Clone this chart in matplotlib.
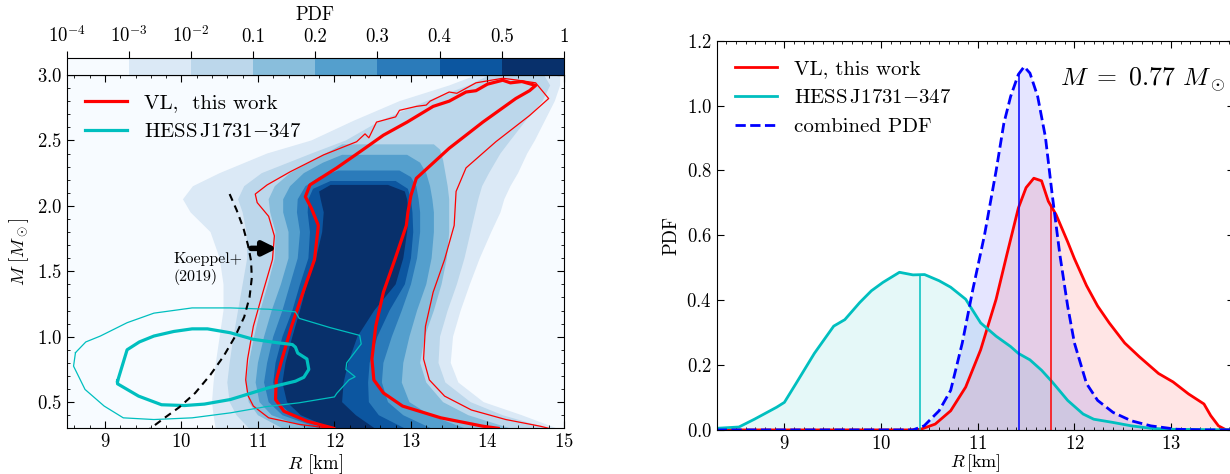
import numpy as np
import matplotlib as mpl
import matplotlib.pyplot as plt
from matplotlib.colors import BoundaryNorm
from matplotlib.lines import Line2D

plt.rcParams['font.family'] = 'serif'
plt.rcParams['font.serif'] = ['cmr10']
plt.rcParams['mathtext.fontset'] = 'cm'
plt.rcParams['axes.formatter.use_mathtext'] = True

# ---------------- left panel data (M-R plane) ----------------
pdf_bounds = [1e-4, 1e-3, 1e-2, 0.1, 0.2, 0.3, 0.4, 0.5, 1.0]
pdf_labels = [r'$10^{-4}$', r'$10^{-3}$', r'$10^{-2}$', '0.1', '0.2', '0.3',
              '0.4', '0.5', '1']

# PDF bands: rows of (M, R_left, R_right), one list per level
band_values = [5e-3, 0.05, 0.15, 0.25, 0.35, 0.45, 0.75]
band_l2 = [(0.29, 10.45, 14.95), (0.40, 10.42, 14.45), (0.50, 10.40, 13.95),
           (0.65, 10.42, 13.62), (0.80, 10.45, 13.52), (1.00, 10.50, 13.55),
           (1.20, 10.55, 13.65), (1.40, 10.55, 13.77), (1.60, 10.50, 13.90),
           (1.80, 10.38, 14.05), (1.95, 10.12, 14.17), (2.05, 10.02, 14.22),
           (2.15, 10.15, 14.30), (2.25, 10.50, 14.40), (2.40, 11.12, 14.52),
           (2.50, 11.70, 14.62), (2.65, 12.25, 14.75), (2.80, 12.85, 14.88),
           (2.92, 13.50, 14.95), (3.02, 13.95, 14.95)]
band_l3 = [(0.29, 10.90, 14.85), (0.40, 10.72, 14.20), (0.50, 10.63, 13.78),
           (0.65, 10.60, 13.45), (0.80, 10.63, 13.36), (1.00, 10.68, 13.38),
           (1.20, 10.74, 13.48), (1.40, 10.80, 13.60), (1.60, 10.86, 13.70),
           (1.80, 10.85, 13.78), (1.95, 10.80, 13.84), (2.05, 10.74, 13.88),
           (2.15, 10.82, 13.93), (2.25, 11.05, 14.02), (2.40, 11.70, 14.17),
           (2.50, 12.15, 14.30), (2.65, 12.60, 14.50), (2.80, 13.20, 14.72),
           (2.92, 13.75, 14.82), (3.02, 14.10, 14.72)]
band_l4 = [(0.29, 11.35, 14.35), (0.40, 11.00, 13.75), (0.50, 10.88, 13.42),
           (0.65, 10.84, 13.20), (0.80, 10.88, 13.12), (1.00, 10.95, 13.18),
           (1.20, 11.03, 13.30), (1.40, 11.13, 13.40), (1.60, 11.22, 13.47),
           (1.80, 11.23, 13.50), (1.95, 11.16, 13.50), (2.05, 11.14, 13.50),
           (2.15, 11.22, 13.48), (2.25, 11.42, 13.45), (2.35, 11.72, 13.42),
           (2.43, 11.98, 13.38), (2.47, 12.10, 13.30)]
band_l5 = [(0.29, 11.70, 13.75), (0.40, 11.18, 13.25), (0.50, 11.02, 12.98),
           (0.65, 10.97, 12.88), (0.80, 11.00, 12.90), (1.00, 11.08, 12.98),
           (1.20, 11.18, 13.08), (1.40, 11.30, 13.20), (1.60, 11.40, 13.27),
           (1.80, 11.40, 13.30), (1.95, 11.33, 13.30), (2.05, 11.33, 13.28),
           (2.15, 11.42, 13.25), (2.25, 11.60, 13.20), (2.33, 11.85, 13.12),
           (2.39, 12.10, 12.95)]
band_l6 = [(0.29, 11.85, 13.30), (0.40, 11.32, 12.90), (0.50, 11.14, 12.70),
           (0.65, 11.08, 12.62), (0.80, 11.12, 12.64), (1.00, 11.20, 12.75),
           (1.20, 11.32, 12.88), (1.40, 11.42, 13.00), (1.60, 11.52, 13.08),
           (1.80, 11.55, 13.12), (1.95, 11.51, 13.12), (2.05, 11.52, 13.10),
           (2.15, 11.62, 13.07), (2.22, 11.80, 13.00), (2.27, 12.05, 12.85)]
band_l7 = [(0.29, 11.92, 12.95), (0.40, 11.45, 12.58), (0.50, 11.26, 12.45),
           (0.65, 11.20, 12.44), (0.80, 11.23, 12.46), (1.00, 11.32, 12.56),
           (1.20, 11.45, 12.72), (1.40, 11.55, 12.92), (1.60, 11.66, 13.00),
           (1.80, 11.68, 13.03), (1.95, 11.65, 13.02), (2.05, 11.66, 13.00),
           (2.13, 11.72, 12.96), (2.19, 11.95, 12.80)]
band_l8 = [(0.29, 12.00, 12.55), (0.40, 11.56, 12.28), (0.50, 11.38, 12.10),
           (0.65, 11.32, 12.12), (0.80, 11.36, 12.18), (1.00, 11.45, 12.30),
           (1.20, 11.55, 12.52), (1.40, 11.64, 12.80), (1.60, 11.76, 12.90),
           (1.80, 11.84, 12.95), (1.95, 11.86, 12.97), (2.05, 11.82, 12.95),
           (2.11, 11.80, 12.92), (2.16, 11.95, 12.70)]
bands = [band_l2, band_l3, band_l4, band_l5, band_l6, band_l7, band_l8]

# VL contours (R, M)
vl_inner_R = [11.99, 11.64, 11.34, 11.23, 11.24, 11.315, 11.44, 11.59, 11.74, 11.79,
              11.70, 11.62, 11.68, 12.03, 12.35, 12.64, 12.95, 13.29, 13.50, 13.72,
              13.85, 14.00, 14.20, 14.30, 14.45, 14.63, 14.55, 14.37, 13.94, 13.50,
              13.07, 13.00, 12.96, 12.94, 12.79, 12.64, 12.54, 12.49, 12.515, 12.64,
              12.89, 13.39, 13.94, 14.14]
vl_inner_M = [0.30, 0.355, 0.43, 0.52, 0.67, 0.83, 1.08, 1.34, 1.59, 1.85,
              1.98, 2.07, 2.16, 2.29, 2.42, 2.54, 2.64, 2.76, 2.80, 2.87,
              2.88, 2.93, 2.96, 2.94, 2.95, 2.92, 2.88, 2.82, 2.64, 2.44,
              2.21, 2.08, 1.95, 1.85, 1.59, 1.34, 1.08, 0.83, 0.67, 0.57,
              0.47, 0.38, 0.316, 0.30]
vl_outer_R = [11.94, 11.54, 11.14, 10.94, 10.87, 10.84, 10.865, 10.94, 11.065, 11.19,
              11.215, 11.14, 10.99, 10.965, 11.12, 11.42, 11.86, 12.29, 12.40, 12.45,
              12.55, 12.80, 12.85, 13.07, 13.20, 13.25, 13.50, 13.60, 13.85, 14.20,
              14.40, 14.63, 14.80, 14.55, 14.11, 13.72, 13.59, 13.565, 13.44, 13.29,
              13.19, 13.165, 13.24, 13.44, 13.79, 14.24, 14.69, 14.80]
vl_outer_M = [0.30, 0.33, 0.38, 0.47, 0.55, 0.67, 0.83, 1.08, 1.34, 1.59,
              1.77, 1.92, 2.025, 2.09, 2.16, 2.26, 2.39, 2.49, 2.55, 2.52,
              2.64, 2.68, 2.73, 2.76, 2.77, 2.80, 2.87, 2.86, 2.94, 2.975,
              2.96, 2.94, 2.82, 2.69, 2.49, 2.29, 2.11, 1.85, 1.59, 1.34,
              1.08, 0.83, 0.67, 0.546, 0.44, 0.367, 0.316, 0.30]

# HESS J1731-347 contours (R, M)
hess_inner_R = [9.165, 9.29, 9.45, 9.64, 9.90, 10.14, 10.34, 10.64, 10.94, 11.24,
                11.45, 11.49, 11.52, 11.64, 11.665, 11.60, 11.49, 11.14, 10.64, 10.30,
                10.04, 9.74, 9.44, 9.165, 9.165]
hess_inner_M = [0.66, 0.90, 0.96, 1.005, 1.04, 1.06, 1.06, 1.03, 0.98, 0.955,
                0.94, 0.92, 0.875, 0.83, 0.75, 0.69, 0.66, 0.61, 0.52, 0.485,
                0.474, 0.48, 0.546, 0.64, 0.66]
hess_outer_R = [8.615, 8.75, 8.94, 9.29, 9.64, 10.14, 10.64, 11.14, 11.49, 11.54,
                11.94, 12.33, 12.35, 12.16, 12.15, 12.27, 12.19, 12.03, 12.00, 11.54,
                11.10, 10.64, 10.14, 9.64, 9.24, 8.99, 8.74, 8.59, 8.615]
hess_outer_M = [0.878, 0.96, 1.005, 1.107, 1.18, 1.22, 1.22, 1.21, 1.19, 1.14,
                1.07, 1.01, 0.945, 0.80, 0.75, 0.694, 0.67, 0.567, 0.54, 0.495,
                0.465, 0.418, 0.38, 0.367, 0.38, 0.47, 0.597, 0.775, 0.878]

# Koeppel+ (2019) bound
koeppel_R = [10.63, 10.72, 10.81, 10.87, 10.91, 10.92, 10.89, 10.82, 10.70, 10.55,
             10.38, 10.18, 9.97, 9.78, 9.62, 9.55]
koeppel_M = [2.09, 1.97, 1.83, 1.70, 1.58, 1.45, 1.30, 1.15, 1.00, 0.85,
             0.71, 0.57, 0.46, 0.38, 0.31, 0.28]

# ---------------- right panel data (PDF at M = 0.77) ----------------
R_vl = [8.30, 10.30, 10.41, 10.56, 10.72, 10.875, 11.03, 11.19, 11.30, 11.42,
        11.50, 11.58, 11.66, 11.73, 11.81, 11.93, 12.00, 12.125, 12.24, 12.36,
        12.52, 12.67, 12.87, 13.02, 13.18, 13.34, 13.41, 13.49, 13.57, 13.70]
pdf_vl = [0, 0, 0.002, 0.018, 0.059, 0.132, 0.247, 0.403, 0.539, 0.684,
          0.747, 0.776, 0.768, 0.705, 0.664, 0.58, 0.528, 0.445, 0.382, 0.33,
          0.268, 0.226, 0.174, 0.148, 0.111, 0.08, 0.044, 0.0125, 0, 0]
R_hess = [8.30, 8.53, 8.69, 8.92, 9.00, 9.12, 9.31, 9.51, 9.625, 9.78,
          9.90, 10.02, 10.19, 10.33, 10.45, 10.60, 10.72, 10.875, 11.03, 11.19,
          11.34, 11.42, 11.54, 11.66, 11.77, 11.93, 12.09, 12.20, 12.40, 12.59,
          12.79, 12.98, 13.70]
pdf_hess = [0.005, 0.009, 0.033, 0.07, 0.085, 0.143, 0.236, 0.32, 0.34, 0.393,
            0.429, 0.455, 0.486, 0.478, 0.479, 0.46, 0.44, 0.403, 0.33, 0.289,
            0.257, 0.236, 0.216, 0.184, 0.148, 0.091, 0.049, 0.033, 0.023, 0.0125,
            0.005, 0.002, 0.0]
R_comb = [8.30, 10.33, 10.445, 10.60, 10.72, 10.84, 10.95, 11.07, 11.19, 11.27,
          11.34, 11.42, 11.48, 11.54, 11.62, 11.70, 11.77, 11.85, 11.93, 12.00,
          12.125, 12.24, 12.40, 12.59, 12.79, 13.06, 13.375, 13.70]
pdf_comb = [0, 0, 0.0125, 0.059, 0.122, 0.268, 0.434, 0.601, 0.799, 0.945,
            1.028, 1.096, 1.12, 1.10, 1.028, 0.903, 0.726, 0.539, 0.382, 0.268,
            0.143, 0.091, 0.054, 0.028, 0.0125, 0.002, 0, 0]
med_vl, med_hess, med_comb = 11.76, 10.40, 11.43

# ---------------- figure ----------------
fig = plt.figure(figsize=(12.3, 4.74), dpi=100)
ax1 = fig.add_axes([0.0542, 0.0964, 0.4043, 0.7454])
cax = fig.add_axes([0.0542, 0.8418, 0.4043, 0.0352])
ax2 = fig.add_axes([0.5827, 0.093, 0.4205, 0.8211])

cmap = plt.cm.Blues
norm = BoundaryNorm(pdf_bounds, cmap.N)

ax1.set_facecolor(cmap(0.0))
for value, band in zip(band_values, bands):
    m = [row[0] for row in band]
    left = [row[1] for row in band]
    right = [row[2] for row in band]
    ax1.fill(left + right[::-1], m + m[::-1], color=cmap(norm(value)), lw=0, zorder=1)

ax1.plot(vl_outer_R, vl_outer_M, color='r', lw=0.9, zorder=3)
ax1.plot(vl_inner_R, vl_inner_M, color='r', lw=2.3, zorder=3)
ax1.plot(hess_outer_R, hess_outer_M, color='c', lw=0.9, zorder=3)
ax1.plot(hess_inner_R, hess_inner_M, color='c', lw=2.3, zorder=3)
ax1.plot(koeppel_R, koeppel_M, color='k', lw=1.5, ls=(0, (3.5, 2.5)), zorder=4)
ax1.annotate('', xy=(11.25, 1.675), xytext=(10.91, 1.675),
             arrowprops=dict(arrowstyle='-|>', color='k', lw=4, mutation_scale=20,
                             shrinkA=0, shrinkB=0), zorder=4)
ax1.text(9.90, 1.52, 'Koeppel+\n(2019)', fontsize=11.5, ha='left', va='center',
         linespacing=1.2, zorder=4)

ax1.set_xlim(8.5, 15)
ax1.set_ylim(0.3, 3.0)
ax1.set_xticks([9, 10, 11, 12, 13, 14, 15])
ax1.set_yticks([0.5, 1.0, 1.5, 2.0, 2.5, 3.0])
ax1.xaxis.set_minor_locator(mpl.ticker.MultipleLocator(0.2))
ax1.yaxis.set_minor_locator(mpl.ticker.MultipleLocator(0.1))
ax1.tick_params(which='both', direction='in', top=True, right=True, labelsize=13.5)
ax1.tick_params(which='major', length=5)
ax1.tick_params(which='minor', length=2.5)
ax1.set_xlabel(r'$R$ [km]', fontsize=13.5, labelpad=1)
ax1.set_ylabel(r'$M\ [M_\odot]$', fontsize=13.5)

handles1 = [Line2D([], [], color='r', lw=2.3), Line2D([], [], color='c', lw=2.3)]
ax1.legend(handles1, ['VL,  this work', r'HESS$\,$J1731$-$347'], loc='upper left',
           frameon=False, fontsize=15)

sm = mpl.cm.ScalarMappable(norm=norm, cmap=cmap)
cb = fig.colorbar(sm, cax=cax, orientation='horizontal', ticks=pdf_bounds)
cax.xaxis.set_ticks_position('top')
cax.xaxis.set_label_position('top')
cb.set_ticklabels(pdf_labels)
cax.tick_params(labelsize=13.5, length=5, direction='out')
cax.minorticks_off()
cb.set_label('PDF', fontsize=13.5)

# right panel
ax2.fill_between(R_hess, 0, pdf_hess, color='c', alpha=0.1, lw=0)
ax2.fill_between(R_vl, 0, pdf_vl, color='r', alpha=0.1, lw=0)
ax2.fill_between(R_comb, 0, pdf_comb, color='b', alpha=0.1, lw=0)
ax2.plot(R_vl, pdf_vl, color='r', lw=2.0, label='VL, this work')
ax2.plot(R_hess, pdf_hess, color='c', lw=2.0, label=r'HESS$\,$J1731$-$347')
ax2.plot(R_comb, pdf_comb, color='b', lw=2.0, ls='--', label='combined PDF')
ax2.vlines(med_hess, 0, np.interp(med_hess, R_hess, pdf_hess), color='c', lw=1.1)
ax2.vlines(med_vl, 0, np.interp(med_vl, R_vl, pdf_vl), color='r', lw=1.1)
ax2.vlines(med_comb, 0, np.interp(med_comb, R_comb, pdf_comb), color='b', lw=1.1)
ax2.text(11.85, 1.08, r'$M\ =\ 0.77\ M_\odot$', fontsize=18.5, ha='left', va='center')

ax2.set_xlim(8.3, 13.65)
ax2.set_ylim(0, 1.2)
ax2.set_xticks([9, 10, 11, 12, 13])
ax2.set_yticks([0.0, 0.2, 0.4, 0.6, 0.8, 1.0, 1.2])
ax2.xaxis.set_minor_locator(mpl.ticker.MultipleLocator(0.1))
ax2.tick_params(which='both', direction='in', top=True, right=True, labelsize=13.5)
ax2.tick_params(which='major', length=5)
ax2.tick_params(which='minor', length=2.5)
ax2.set_xlabel(r'$R\,$[km]', fontsize=13, labelpad=0)
ax2.set_ylabel('PDF', fontsize=13.5)
ax2.legend(loc='upper left', frameon=False, fontsize=15)

fig.savefig('out.png', dpi=100)
